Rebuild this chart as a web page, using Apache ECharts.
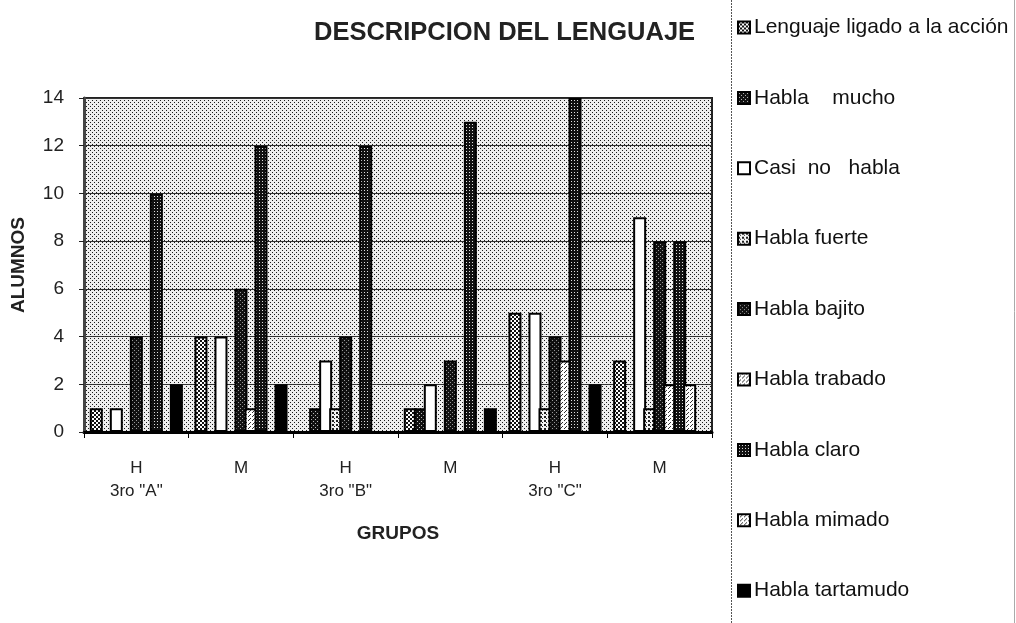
<!DOCTYPE html>
<html>
<head>
<meta charset="utf-8">
<title>Descripción del lenguaje</title>
<script src="https://cdn.jsdelivr.net/npm/echarts@6/dist/echarts.min.js"></script>
<style>
  html, body { margin: 0; padding: 0; background: #fff; }
  #chart { width: 1016px; height: 623px; }
</style>
</head>
<body>
<div id="chart"></div>
<script>
// Groups (sex within each 3rd-grade class)
const categories = ['H\n3ro "A"', 'M', 'H\n3ro "B"', 'M', 'H\n3ro "C"', 'M'];

// Number of pupils per speech description, one value per group
const lenguajeLigado = [1, 4, 0, 1, 5, 3];
const hablaMucho     = [0, 0, 1, 1, 0, 0];
const casiNoHabla    = [1, 4, 3, 2, 5, 9];
const hablaFuerte    = [0, 0, 1, 0, 1, 1];
const hablaBajito    = [4, 6, 4, 3, 4, 8];
const hablaTrabado   = [0, 1, 0, 0, 3, 2];
const hablaClaro     = [10, 12, 12, 13, 14, 8];
const hablaMimado    = [0, 0, 0, 0, 0, 2];
const hablaTartamudo = [2, 2, 0, 1, 2, 0];

const seriesNames = [
  'Lenguaje ligado a la acción', 'Habla    mucho', 'Casi  no   habla',
  'Habla fuerte', 'Habla bajito', 'Habla trabado',
  'Habla claro', 'Habla mimado', 'Habla tartamudo'
];
const seriesData = [
  lenguajeLigado, hablaMucho, casiNoHabla, hablaFuerte, hablaBajito,
  hablaTrabado, hablaClaro, hablaMimado, hablaTartamudo
];

// Small monochrome tile patterns (print-style halftones)
function tile(size, bg, fg, dots) {
  const c = document.createElement('canvas');
  c.width = size; c.height = size;
  const g = c.getContext('2d');
  g.fillStyle = bg; g.fillRect(0, 0, size, size);
  g.fillStyle = fg;
  dots.forEach(([x, y, w, h]) => g.fillRect(x, y, w || 1, h || 1));
  return { image: c, repeat: 'repeat' };
}

const plotBg = tile(4, '#eeeeee', '#1a1a1a', [[0, 0], [2, 2]]);

const fills = [
  tile(4, '#ffffff', '#111', [[0, 0, 2, 2], [2, 2, 2, 2]]),          // medium checker
  tile(4, '#111', '#bbb', [[1, 1], [3, 3]]),                         // dark, light dots
  '#ffffff',                                                         // white
  tile(4, '#f4f4f4', '#222', [[0, 0, 2, 2], [2, 2, 1, 1]]),          // light checker
  tile(4, '#111', '#999', [[0, 0], [2, 2]]),                         // dark
  tile(4, '#ffffff', '#333', [[0, 0], [2, 2], [1, 3]]),              // light
  tile(3, '#111', '#e0e0e0', [[1, 1]]),                              // dark checker
  tile(4, '#ffffff', '#333', [[0, 0], [2, 2], [3, 1]]),              // light
  '#000000'                                                          // solid
];

const font = 'Arial, "Liberation Sans", Helvetica, sans-serif';

const chart = echarts.init(document.getElementById('chart'), null, { renderer: 'canvas' });

chart.setOption({
  animation: false,
  backgroundColor: '#ffffff',
  title: {
    text: 'DESCRIPCION DEL LENGUAJE',
    left: 309,
    top: 15,
    textStyle: { fontFamily: font, fontSize: 25.5, fontWeight: 'bold', color: '#222' }
  },
  legend: {
    orient: 'vertical',
    left: 737,
    top: 17,
    padding: 0,
    itemGap: 49.4,
    itemWidth: 12,
    itemHeight: 12,
    icon: 'rect',
    textStyle: { fontFamily: font, fontSize: 21, lineHeight: 21, color: '#111', padding: [0, 0, 0, -1] },
    data: seriesNames
  },
  grid: {
    left: 84,
    right: 304,
    top: 98,
    bottom: 191,
    containLabel: false,
    outerBoundsMode: 'none',
    show: true,
    backgroundColor: plotBg,
    borderColor: '#222',
    borderWidth: 2
  },
  xAxis: {
    type: 'category',
    data: categories,
    name: 'GRUPOS',
    nameLocation: 'middle',
    nameGap: 92,
    nameTextStyle: { fontFamily: font, fontSize: 19, fontWeight: 'bold', color: '#222' },
    axisLine: { lineStyle: { color: '#000', width: 3 } },
    axisTick: { show: true, length: 6, lineStyle: { color: '#000', width: 1 } },
    axisLabel: {
      fontFamily: font, fontSize: 17, color: '#222',
      lineHeight: 23, margin: 25
    },
    splitLine: { show: false }
  },
  yAxis: {
    type: 'value',
    min: 0,
    max: 14,
    interval: 2,
    name: 'ALUMNOS',
    nameLocation: 'middle',
    nameGap: 56,
    nameRotate: 90,
    nameTextStyle: { fontFamily: font, fontSize: 19, fontWeight: 'bold', color: '#222' },
    axisLine: { show: true, lineStyle: { color: '#444', width: 3 } },
    axisTick: { show: true, length: 5, lineStyle: { color: '#222', width: 1 } },
    axisLabel: { fontFamily: font, fontSize: 19, color: '#222', margin: 20 },
    splitLine: { show: true, lineStyle: { color: '#333', width: 1 } }
  },
  graphic: [
    { type: 'line', shape: { x1: 731.5, y1: 0, x2: 731.5, y2: 623 },
      style: { stroke: '#555', lineWidth: 1, lineDash: [2, 1] }, silent: true },
    { type: 'line', shape: { x1: 1014.5, y1: 0, x2: 1014.5, y2: 623 },
      style: { stroke: '#aaa', lineWidth: 1 }, silent: true }
  ],
  series: seriesNames.map((name, i) => ({
    name: name,
    type: 'bar',
    data: seriesData[i],
    barWidth: 13,
    barGap: '-23%',
    itemStyle: { color: fills[i], borderColor: '#000', borderWidth: 2 },
    emphasis: { disabled: true }
  }))
});
</script>
</body>
</html>
